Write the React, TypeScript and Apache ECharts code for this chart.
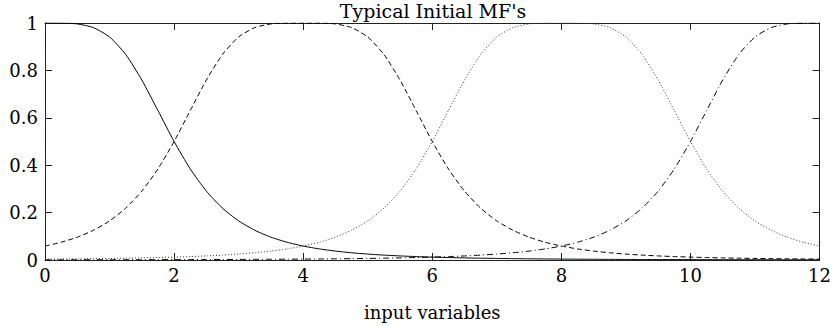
import React, { useEffect, useRef } from "react";
import * as echarts from "echarts";

const xs = [0,0.25,0.5,0.75,1,1.25,1.5,1.75,2,2.25,2.5,2.75,3,3.25,3.5,3.75,4,4.25,4.5,4.75,5,5.25,5.5,5.75,6,6.25,6.5,6.75,7,7.25,7.5,7.75,8,8.25,8.5,8.75,9,9.25,9.5,9.75,10,10.25,10.5,10.75,11,11.25,11.5,11.75,12];

const mf1 = [1.0000,0.9998,0.9961,0.9806,0.9412,0.8676,0.7596,0.6305,0.5000,0.3843,0.2906,0.2186,0.1649,0.1254,0.0963,0.0749,0.0588,0.0468,0.0376,0.0305,0.0250,0.0206,0.0172,0.0144,0.0122,0.0104,0.0089,0.0076,0.0066,0.0058,0.0050,0.0044,0.0039,0.0034,0.0031,0.0027,0.0024,0.0022,0.0020,0.0018,0.0016,0.0014,0.0013,0.0012,0.0011,0.0010,0.0009,0.0008,0.0008];

const mf2 = [0.0588,0.0749,0.0963,0.1254,0.1649,0.2186,0.2906,0.3843,0.5000,0.6305,0.7596,0.8676,0.9412,0.9806,0.9961,0.9998,1.0000,0.9998,0.9961,0.9806,0.9412,0.8676,0.7596,0.6305,0.5000,0.3843,0.2906,0.2186,0.1649,0.1254,0.0963,0.0749,0.0588,0.0468,0.0376,0.0305,0.0250,0.0206,0.0172,0.0144,0.0122,0.0104,0.0089,0.0076,0.0066,0.0058,0.0050,0.0044,0.0039];

const mf3 = [0.0039,0.0044,0.0050,0.0058,0.0066,0.0076,0.0089,0.0104,0.0122,0.0144,0.0172,0.0206,0.0250,0.0305,0.0376,0.0468,0.0588,0.0749,0.0963,0.1254,0.1649,0.2186,0.2906,0.3843,0.5000,0.6305,0.7596,0.8676,0.9412,0.9806,0.9961,0.9998,1.0000,0.9998,0.9961,0.9806,0.9412,0.8676,0.7596,0.6305,0.5000,0.3843,0.2906,0.2186,0.1649,0.1254,0.0963,0.0749,0.0588];

const mf4 = [0.0008,0.0008,0.0009,0.0010,0.0011,0.0012,0.0013,0.0014,0.0016,0.0018,0.0020,0.0022,0.0024,0.0027,0.0031,0.0034,0.0039,0.0044,0.0050,0.0058,0.0066,0.0076,0.0089,0.0104,0.0122,0.0144,0.0172,0.0206,0.0250,0.0305,0.0376,0.0468,0.0588,0.0749,0.0963,0.1254,0.1649,0.2186,0.2906,0.3843,0.5000,0.6305,0.7596,0.8676,0.9412,0.9806,0.9961,0.9998,1.0000];

const titleText = "Typical Initial MF's";
const xLabel = "input variables";

const FONT = "DejaVu Serif";

export default function App() {
  const ref = useRef<HTMLDivElement>(null);
  useEffect(() => {
    if (!ref.current) return;
    const chart = echarts.init(ref.current, undefined, { renderer: "svg" });
    const pair = (ys: number[]) => xs.map((x, i) => [x, ys[i]]);
    const axisLine = { show: true, onZero: false, lineStyle: { color: "#222", width: 1 } };
    const tick = { show: true, inside: true, length: 7, lineStyle: { color: "#222" } };
    const mk = (ys: number[], type: any, color: string) => ({
      type: "line",
      data: pair(ys),
      showSymbol: false,
      smooth: 0.2,
      lineStyle: { color, width: 1, type },
      xAxisIndex: 0,
      yAxisIndex: 0,
    });
    chart.setOption({
      animation: false,
      backgroundColor: "#fff",
      textStyle: { fontFamily: FONT },
      title: {
        text: titleText,
        left: 433,
        top: 1,
        padding: 0,
        textAlign: "center",
        textStyle: { fontFamily: FONT, fontSize: 19, fontWeight: "normal", color: "#000" },
      },
      grid: { left: 45, right: 12, top: 23, bottom: 66, containLabel: false },
      xAxis: [
        {
          type: "value", min: 0, max: 12, interval: 2, position: "bottom",
          axisLine, axisTick: tick, splitLine: { show: false },
          axisLabel: { fontFamily: FONT, fontSize: 18, color: "#000", margin: 6 },
          name: xLabel, nameLocation: "middle", nameGap: 43,
          nameTextStyle: { fontFamily: FONT, fontSize: 18, color: "#000" },
        },
        {
          type: "value", min: 0, max: 12, interval: 2, position: "top",
          axisLine, axisTick: tick, splitLine: { show: false }, axisLabel: { show: false },
        },
      ],
      yAxis: [
        {
          type: "value", min: 0, max: 1, interval: 0.2, position: "left",
          axisLine, axisTick: tick, splitLine: { show: false },
          axisLabel: { fontFamily: FONT, fontSize: 18, color: "#000", margin: 7 },
        },
        {
          type: "value", min: 0, max: 1, interval: 0.2, position: "right",
          axisLine, axisTick: tick, splitLine: { show: false }, axisLabel: { show: false },
        },
      ],
      series: [
        mk(mf1, "solid", "#000"),
        mk(mf2, [5, 3], "#000"),
        mk(mf3, [1, 2], "#333"),
        mk(mf4, [6, 3, 1, 3], "#000"),
      ],
    });
    return () => chart.dispose();
  }, []);
  return (
    <div
      ref={ref}
      style={{ position: "fixed", left: 0, top: 0, width: 834, height: 326, background: "#fff" }}
    />
  );
}
